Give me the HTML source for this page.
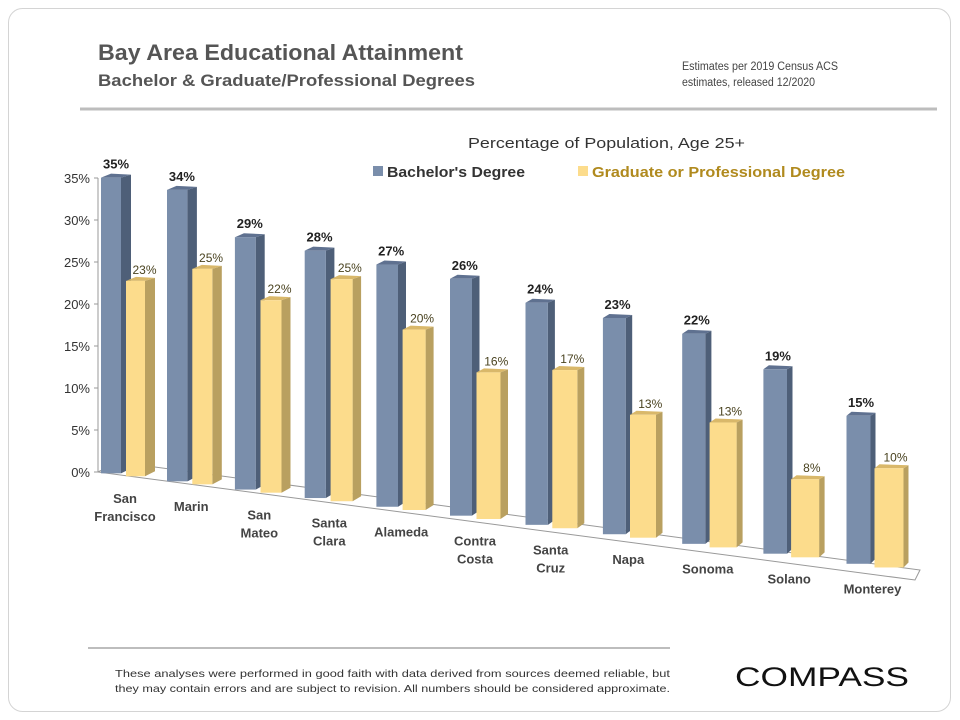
<!DOCTYPE html>
<html><head><meta charset="utf-8"><style>
body{margin:0;background:#fff;}
svg{display:block;font-family:"Liberation Sans",sans-serif;}
</style></head><body>
<svg width="960" height="720" viewBox="0 0 960 720">
<rect x="8.5" y="8.5" width="942" height="703" rx="14" fill="#fff" stroke="#d4d4d4"/>
<text x="98" y="60" font-size="22" font-weight="bold" fill="#555" textLength="365" lengthAdjust="spacingAndGlyphs">Bay Area Educational Attainment</text>
<text x="98" y="86" font-size="17" font-weight="bold" fill="#555" textLength="377" lengthAdjust="spacingAndGlyphs">Bachelor &amp; Graduate/Professional  Degrees</text>
<text x="682" y="70" font-size="11.5" fill="#444" textLength="156" lengthAdjust="spacingAndGlyphs">Estimates per 2019 Census ACS</text>
<text x="682" y="86" font-size="11.5" fill="#444" textLength="133" lengthAdjust="spacingAndGlyphs">estimates, released 12/2020</text>
<line x1="80" y1="109" x2="937" y2="109" stroke="#bdbdbd" stroke-width="3"/>
<text x="468" y="148" font-size="15" fill="#333" textLength="277" lengthAdjust="spacingAndGlyphs">Percentage of Population, Age 25+</text>
<g>
<rect x="373" y="166" width="10" height="10" fill="#7a8eab"/>
<text x="387" y="177" font-size="15" font-weight="bold" fill="#333" textLength="138" lengthAdjust="spacingAndGlyphs">Bachelor's Degree</text>
</g>
<g>
<rect x="578" y="166" width="10" height="10" fill="#fcdc8c"/>
<text x="592" y="177" font-size="15" font-weight="bold" fill="#b08a1e" textLength="253" lengthAdjust="spacingAndGlyphs">Graduate or Professional Degree</text>
</g>
<g id="plot"></g>
<line x1="88" y1="648" x2="670" y2="648" stroke="#bdbdbd" stroke-width="2"/>
<text x="115" y="677" font-size="10.5" fill="#333" textLength="555" lengthAdjust="spacingAndGlyphs">These analyses  were performed in good faith with data derived from sources deemed reliable, but</text>
<text x="115" y="692" font-size="10.5" fill="#333" textLength="555" lengthAdjust="spacingAndGlyphs">they may contain errors and are subject to revision.  All numbers should be considered approximate.</text>
<text x="735" y="686" font-size="27" fill="#111" textLength="174" lengthAdjust="spacingAndGlyphs">COMPASS</text>
</svg>
<script>
const categories=[["San","Francisco"],["Marin"],["San","Mateo"],["Santa","Clara"],["Alameda"],["Contra","Costa"],["Santa","Cruz"],["Napa"],["Sonoma"],["Solano"],["Monterey"]];
const bachelor=[35,34,29,28,27,26,24,23,22,19,15];
const graduate=[23,25,22,25,20,16,17,13,13,8,10];
const tickValues=[0,5,10,15,20,25,30,35];
const tickLabels=["0%","5%","10%","15%","20%","25%","30%","35%"];

const NS="http://www.w3.org/2000/svg";
const plot=document.getElementById('plot');
function mk(tag,attrs,parent){const e=document.createElementNS(NS,tag);for(const k in attrs)e.setAttribute(k,attrs[k]);(parent||plot).appendChild(e);return e;}
function groupX(i){return 101+66*i+1.9*i*(i-1)/2;}
function baseY(x){return 472+(x-100)*0.121;}
function scale(x){return 8.45+(x-102)*0.0019;}
function yAxis(v){return 472-v*8.4;}

// axes
const ax=mk('line',{x1:98,y1:178,x2:98,y2:472,stroke:'#999'});


tickValues.forEach((v,k)=>{
  const y=yAxis(v);
  const t=mk('line',{x1:94,y1:y,x2:98,y2:y,stroke:'#999'});
  
  
  const l=mk('text',{x:90,y:y+5,'font-size':13,'text-anchor':'end',fill:'#333'});
  l.textContent=tickLabels[k];
  
  
});
const fl=mk('polyline',{points:'98,472 118,462 920,570 915,580 98,472',fill:'none',stroke:'#999'});



function bar(x,w,d,v,front,side,top,name){
  const by=baseY(x+w/2);
  const ty=by-v*scale(x);
  const g=mk('g',{});
  
  
  mk('polygon',{points:`${x+w},${ty} ${x+w+d},${ty-3} ${x+w+d},${by-5} ${x+w},${by}`,fill:side},g);
  mk('polygon',{points:`${x},${ty} ${x+w},${ty} ${x+w+d},${ty-3} ${x+d},${ty-4}`,fill:top},g);
  mk('rect',{x:x,y:ty,width:w,height:by-ty,fill:front},g);
  return {ty,cx:x+w/2+d/2};
}
categories.forEach((c,i)=>{
  const x=groupX(i);
  const f=i/10;
  const w=20+4*f, d=10-5*f;
  const b=bar(x,w,d,bachelor[i],'#7a8eab','#4e5f78','#5f7190','bar-bachelor');
  const lb=mk('text',{x:b.cx,y:b.ty-9,'font-size':13,'font-weight':'bold','text-anchor':'middle',fill:'#222'});
  lb.textContent=bachelor[i]+'%';
  
  
  const gx=x+25+3*f;
  const g=bar(gx,w-1+6*f,d,graduate[i],'#fcdc8c','#b9a060','#d9b86a','bar-graduate');
  const lg=mk('text',{x:g.cx+4,y:g.ty-7,'font-size':12,'text-anchor':'middle',fill:'#4a4320'});
  lg.textContent=graduate[i]+'%';
  
  
  const cx=x+24+2*f;
  const ly=baseY(cx)+28;
  const t=mk('text',{x:cx,y:ly,'font-size':13,'font-weight':'bold','text-anchor':'middle',fill:'#444'});
  
  
  c.forEach((ln,k)=>{const s=mk('tspan',{x:cx,dy:k?18:0},t);s.textContent=ln;});
});
</script>
</body></html>
